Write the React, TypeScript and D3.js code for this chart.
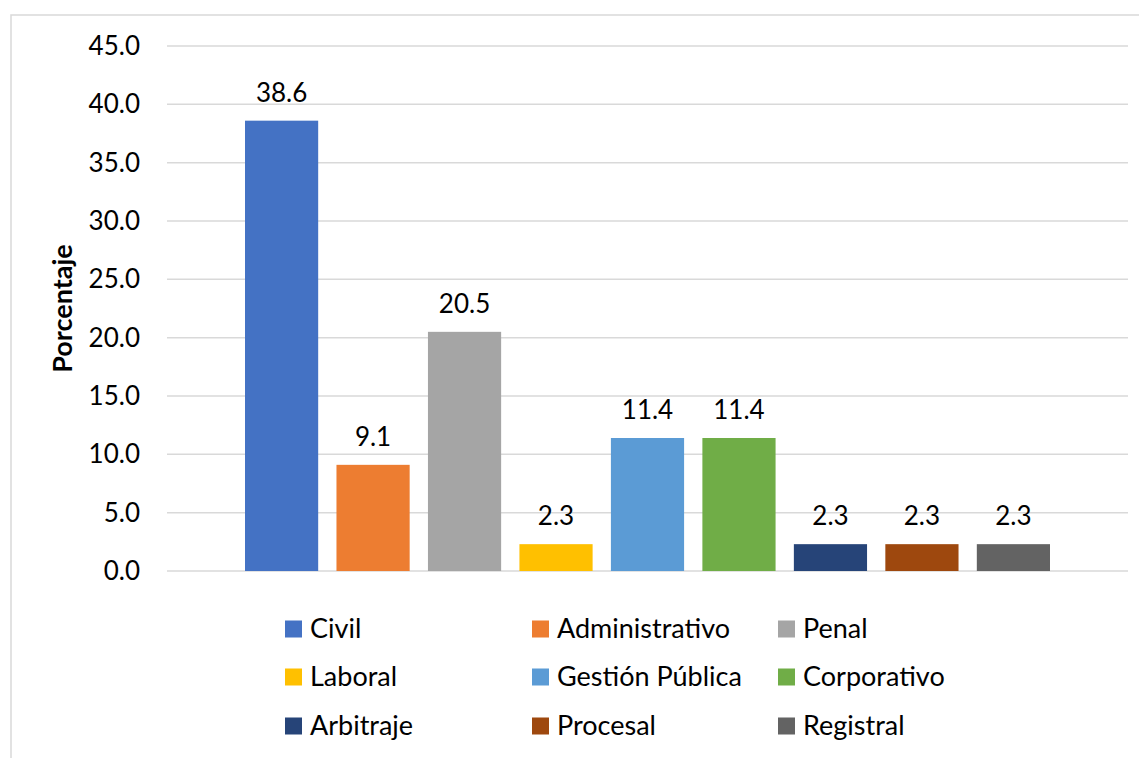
import { useEffect, useRef } from 'react';
import * as d3 from 'd3';

const CATEGORIES = ['Civil', 'Administrativo', 'Penal', 'Laboral', 'Gestión Pública', 'Corporativo', 'Arbitraje', 'Procesal', 'Registral'];
const VALUES = [38.6, 9.1, 20.5, 2.3, 11.4, 11.4, 2.3, 2.3, 2.3];
const COLORS = ['#4472c4', '#ed7d31', '#a5a5a5', '#ffc000', '#5b9bd5', '#70ad47', '#264478', '#9e480e', '#636363'];
const Y_TICKS = [0, 5, 10, 15, 20, 25, 30, 35, 40, 45];

const W = 1139;
const H = 758;
const FONT = 'Lato, "Noto Sans", sans-serif';

export default function App() {
  const svgRef = useRef<SVGSVGElement>(null);

  useEffect(() => {
    if (!svgRef.current) return;
    const svg = d3.select(svgRef.current);
    svg.selectAll('*').remove();

    // chart frame (runs off right/bottom of the picture)
    svg.append('rect')
      .attr('x', 11).attr('y', 15)
      .attr('width', W).attr('height', H)
      .attr('fill', '#fff')
      .attr('stroke', '#d9d9d9').attr('stroke-width', 1.5);

    const plotL = 167, plotR = 1128;
    const y = d3.scaleLinear().domain([0, 45]).range([571, 46]);

    // one category, nine series centred in the plot
    const cx = (plotL + plotR) / 2;
    const groupW = 805;
    const x = d3.scaleBand<string>()
      .domain(CATEGORIES)
      .range([cx - groupW / 2, cx + groupW / 2])
      .paddingInner(0.2)
      .paddingOuter(0);

    // gridlines
    svg.append('g').selectAll('line')
      .data(Y_TICKS)
      .enter().append('line')
      .attr('x1', plotL).attr('x2', plotR)
      .attr('y1', d => y(d)).attr('y2', d => y(d))
      .attr('stroke', '#d9d9d9').attr('stroke-width', 1.5);

    // y tick labels
    svg.append('g').selectAll('text')
      .data(Y_TICKS)
      .enter().append('text')
      .attr('x', 140).attr('y', d => y(d))
      .attr('dy', '0.35em')
      .attr('text-anchor', 'end')
      .attr('font-family', FONT).attr('font-size', 26)
      .attr('fill', '#000')
      .text(d => d3.format('.1f')(d));

    // axis title
    svg.append('text')
      .attr('transform', `translate(63, ${(y(0) + y(45)) / 2}) rotate(-90)`)
      .attr('dy', '0.35em')
      .attr('text-anchor', 'middle')
      .attr('font-family', FONT).attr('font-size', 27).attr('font-weight', 'bold')
      .text('Porcentaje');

    // bars
    const data = CATEGORIES.map((c, i) => ({ c, v: VALUES[i], color: COLORS[i] }));
    svg.append('g').selectAll('rect')
      .data(data)
      .enter().append('rect')
      .attr('x', d => x(d.c)!)
      .attr('width', x.bandwidth())
      .attr('y', d => y(d.v))
      .attr('height', d => y(0) - y(d.v))
      .attr('fill', d => d.color);

    // value labels
    svg.append('g').selectAll('text')
      .data(data)
      .enter().append('text')
      .attr('x', d => x(d.c)! + x.bandwidth() / 2)
      .attr('y', d => y(d.v) - 19)
      .attr('text-anchor', 'middle')
      .attr('font-family', FONT).attr('font-size', 26)
      .text(d => d3.format('.1f')(d.v));

    // legend: 3 columns x 3 rows
    const colX = [285, 532, 778];
    const rowY = [629, 677, 726];
    const items = svg.append('g').selectAll('g')
      .data(data)
      .enter().append('g')
      .attr('transform', (_d, i) => `translate(${colX[i % 3]}, ${rowY[Math.floor(i / 3)]})`);
    items.append('rect')
      .attr('x', 0).attr('y', -8.5)
      .attr('width', 17).attr('height', 17)
      .attr('fill', d => d.color);
    items.append('text')
      .attr('x', 25).attr('y', 0)
      .attr('dy', '0.35em')
      .attr('font-family', FONT).attr('font-size', 27)
      .text(d => d.c);
  }, []);

  return (
    <svg
      ref={svgRef}
      width={W}
      height={H}
      style={{ position: 'absolute', left: 0, top: 0, background: '#fff' }}
    />
  );
}
